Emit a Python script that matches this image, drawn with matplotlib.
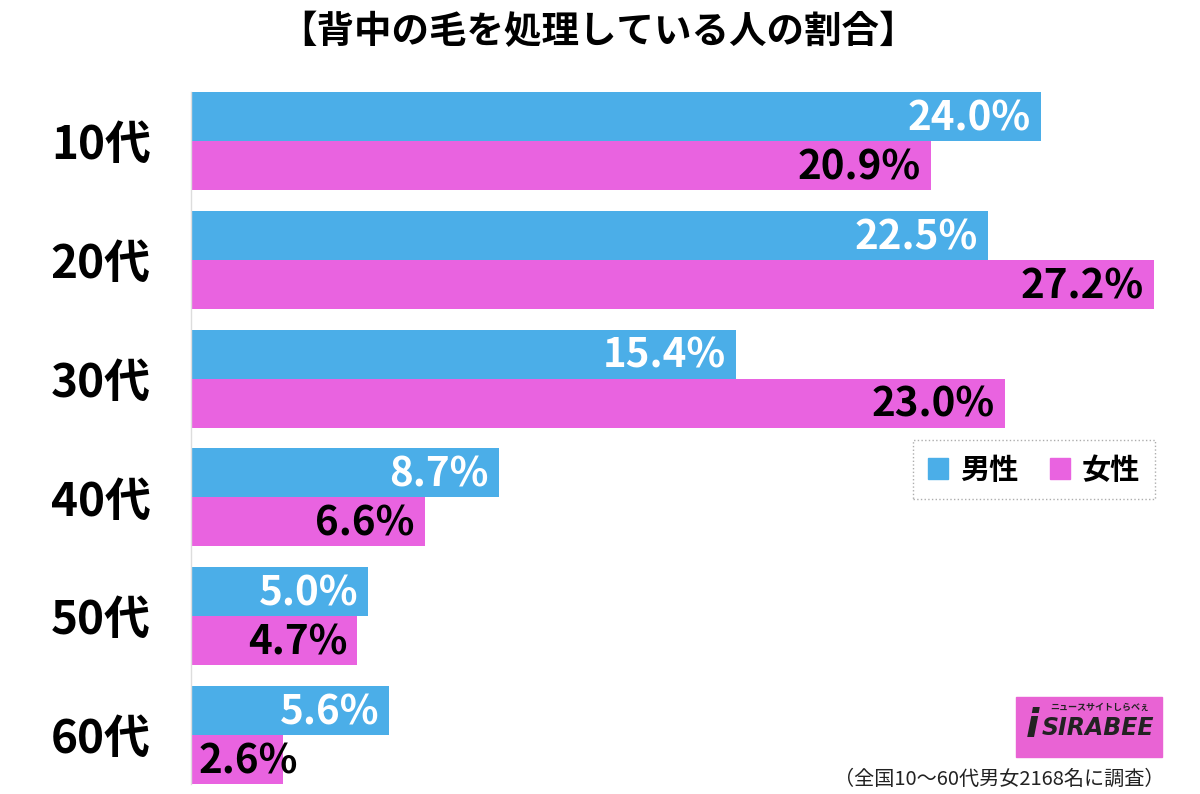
import matplotlib
matplotlib.use("Agg")
import matplotlib.pyplot as plt
from matplotlib.patches import Rectangle
import numpy as np

plt.rcParams['font.family'] = ['Noto Sans CJK JP', 'DejaVu Sans']

categories = ["10代", "20代", "30代", "40代", "50代", "60代"]
male = [24.0, 22.5, 15.4, 8.7, 5.0, 5.6]
female = [20.9, 27.2, 23.0, 6.6, 4.7, 2.6]
series_names = ["男性", "女性"]
title = "【背中の毛を処理している人の割合】"
footnote = "（全国10〜60代男女2168名に調査）"

c_male = "#4BAEE8"
c_female = "#E963E0"

W, H = 1200, 794
fig = plt.figure(figsize=(W/100, H/100), dpi=100)
ax = fig.add_axes([191/W, 1-784/H, 1009/W, (784-92)/H])
ax.set_xlim(0, 1009/35.4)
bh = 49/119
ax.set_ylim(5 + bh, -bh)
y = np.arange(len(categories))
ax.barh(y - bh/2, male, height=bh, color=c_male, linewidth=0)
ax.barh(y + bh/2, female, height=bh, color=c_female, linewidth=0)

off = 10/35.4
fs_val = 29
def put(v, yy, col):
    if v < 4:
        ax.text(8/35.4, yy, f"{v:.1f}%", ha="left", va="center",
                color=col, fontsize=fs_val, fontweight="bold")
    else:
        ax.text(v - off, yy, f"{v:.1f}%", ha="right", va="center",
                color=col, fontsize=fs_val, fontweight="bold")

for i in range(len(categories)):
    put(male[i], y[i] - bh/2 + 0.02, "white")
    put(female[i], y[i] + bh/2 + 0.02, "black")

ax.set_yticks(y)
ax.set_yticklabels(categories, fontsize=33, fontweight="bold")
ax.tick_params(axis="y", length=0, pad=29)
ax.set_xticks([])
for s in ["top", "right", "bottom"]:
    ax.spines[s].set_visible(False)
ax.spines["left"].set_color("#DDDDDD")
ax.spines["left"].set_linewidth(1)

fig.text(598/W, 1-32/H, title, ha="center", va="center", fontsize=27, fontweight="bold")

# legend
leg_h = [Rectangle((0, 0), 1, 1, color=c_male), Rectangle((0, 0), 1, 1, color=c_female)]
leg = ax.legend(leg_h, series_names, loc="upper left",
                bbox_to_anchor=(913/W, 1-440/H), bbox_transform=fig.transFigure,
                ncol=2, frameon=True, fancybox=False, borderaxespad=0,
                handlelength=0.7, handleheight=0.7, handletextpad=0.4, columnspacing=1.1,
                borderpad=0.5, prop={'weight': 'bold', 'size': 21})
leg.get_frame().set_edgecolor("#999999")
leg.get_frame().set_linestyle(":")
leg.get_frame().set_linewidth(1)

# logo
fig.patches.append(Rectangle((1016/W, 1-757/H), 146/W, 60/H, transform=fig.transFigure,
                             color="#E963D4", zorder=5))
fig.text(1098/W, 1-728/H, "SIRABEE", ha="center", va="center", fontsize=17,
         fontweight="bold", style="italic", color="#222222", zorder=6, family="DejaVu Sans")
fig.text(1100/W, 1-707/H, "ニュースサイトしらべぇ", ha="center", va="center", fontsize=6.5,
         fontweight="bold", color="#222222", zorder=6)
fig.text(1032/W, 1-726/H, "i", ha="center", va="center", fontsize=28,
         fontweight="bold", style="italic", color="#222222", zorder=6, family="DejaVu Sans")

fig.text(1165/W, 1-779/H, footnote, ha="right", va="center", fontsize=14.5, color="#222222")

fig.savefig("out.png", dpi=100, facecolor="white")
